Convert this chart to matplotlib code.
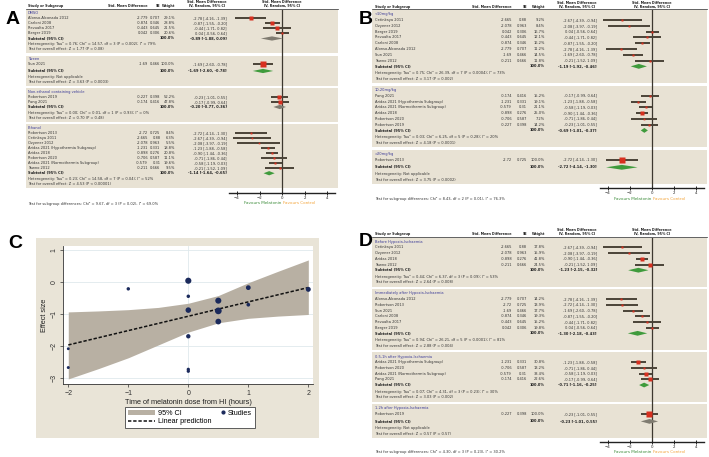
import numpy as np
import matplotlib.pyplot as plt
from matplotlib.patches import Rectangle, Polygon, Patch
from matplotlib.lines import Line2D
from matplotlib.legend_handler import HandlerLine2D

plt.rcParams.update({'font.family': 'DejaVu Sans'})

W, H = 709, 457

# -----------------------------------------------------------------------------
# study level data (std. mean difference and SE)
# -----------------------------------------------------------------------------
STUDY = ['Alonso-Alconada 2012', 'Carloni 2008', 'Revualta 2017', 'Berger 2019',
         'Sun 2021', 'Robertson 2019', 'Pang 2021', 'Robertson 2013',
         'Cetinkaya 2011', 'Ozyener 2012', 'Aridas 2021 (Hypothermia Subgroup)',
         'Aridas 2018', 'Robertson 2020', 'Aridas 2021 (Normothermia Subgroup)',
         'Yawno 2012']
SMD = [-2.779, -0.874, -0.443, 0.042, -1.69, -0.227, -0.174, -2.72,
       -2.665, -2.078, -1.231, -0.898, -0.706, -0.579, -0.211]
SE = [0.707, 0.346, 0.645, 0.306, 0.466, 0.398, 0.416, 0.725,
      0.88, 0.963, 0.331, 0.276, 0.587, 0.31, 0.666]
DOSE_TIME = [0, 0, 0, 0, 0, 2, 1, 0, -2, -2, 0.5, 0.5, 1, 0.5, -1]

# panel A: vehicle
A_GROUPS = ['DMSO', 'Tween', 'Non-ethanol containing vehicle', 'Ethanol']
A_MEMBERS = [['Alonso-Alconada 2012', 'Carloni 2008', 'Revualta 2017', 'Berger 2019'],
             ['Sun 2021'],
             ['Robertson 2019', 'Pang 2021'],
             ['Robertson 2013', 'Cetinkaya 2011', 'Ozyener 2012',
              'Aridas 2021 (Hypothermia Subgroup)', 'Aridas 2018', 'Robertson 2020',
              'Aridas 2021 (Normothermia Subgroup)', 'Yawno 2012']]
A_WEIGHTS = [[29.1, 28.8, 21.5, 20.6], [100.0], [52.2, 47.8],
             [8.4, 6.3, 5.5, 18.8, 20.8, 11.1, 19.6, 9.5]]
A_SUB_EST = [-0.89, -1.69, -0.20, -1.14]
A_SUB_LO = [-1.88, -2.60, -0.77, -1.64]
A_SUB_HI = [0.09, -0.78, 0.36, -0.65]
A_HET = ['Heterogeneity: Tau² = 0.76; Chi² = 14.57, df = 3 (P = 0.002); I² = 79%',
         'Heterogeneity: Not applicable',
         'Heterogeneity: Tau² = 0.00; Chi² = 0.01, df = 1 (P = 0.93); I² = 0%',
         'Heterogeneity: Tau² = 0.23; Chi² = 14.58, df = 7 (P = 0.04); I² = 52%']
A_OVERALL = ['Test for overall effect: Z = 1.77 (P = 0.08)',
             'Test for overall effect: Z = 3.63 (P = 0.0003)',
             'Test for overall effect: Z = 0.70 (P = 0.48)',
             'Test for overall effect: Z = 4.53 (P < 0.00001)']
A_SUBTEST = 'Test for subgroup differences: Chi² = 9.67, df = 3 (P = 0.02), I² = 69.0%'

# panel B: dose
B_GROUPS = ['<10mg/kg', '10-20mg/kg', '>20mg/kg']
B_MEMBERS = [['Cetinkaya 2011', 'Ozyener 2012', 'Berger 2019', 'Revualta 2017',
              'Carloni 2008', 'Alonso-Alconada 2012', 'Sun 2021', 'Yawno 2012'],
             ['Pang 2021', 'Aridas 2021 (Hypothermia Subgroup)',
              'Aridas 2021 (Normothermia Subgroup)', 'Aridas 2018',
              'Robertson 2020', 'Robertson 2019'],
             ['Robertson 2013']]
B_WEIGHTS = [[9.2, 8.4, 16.7, 12.1, 16.2, 11.2, 14.5, 11.8],
             [15.2, 19.1, 21.1, 25.0, 7.2, 14.2], [100.0]]
B_SUB_EST = [-1.19, -0.69, -2.72]
B_SUB_LO = [-1.92, -1.01, -4.14]
B_SUB_HI = [-0.46, -0.37, -1.30]
B_HET = ['Heterogeneity: Tau² = 0.75; Chi² = 26.39, df = 7 (P = 0.0004); I² = 73%',
         'Heterogeneity: Tau² = 0.03; Chi² = 6.25, df = 5 (P = 0.28); I² = 20%',
         'Heterogeneity: Not applicable']
B_OVERALL = ['Test for overall effect: Z = 3.17 (P = 0.002)',
             'Test for overall effect: Z = 4.18 (P < 0.0001)',
             'Test for overall effect: Z = 3.75 (P = 0.0002)']
B_SUBTEST = 'Test for subgroup differences: Chi² = 8.43, df = 2 (P = 0.01), I² = 76.3%'

# panel D: timing
D_GROUPS = ['Before Hypoxia-Ischaemia', 'Immediately after Hypoxia-Ischaemia',
            '0.5-1h after Hypoxia-Ischaemia', '1-2h after Hypoxia-Ischaemia']
D_MEMBERS = [['Cetinkaya 2011', 'Ozyener 2012', 'Aridas 2018', 'Yawno 2012'],
             ['Alonso-Alconada 2012', 'Robertson 2013', 'Sun 2021', 'Carloni 2008',
              'Revualta 2017', 'Berger 2019'],
             ['Aridas 2021 (Hypothermia Subgroup)', 'Robertson 2020',
              'Aridas 2021 (Normothermia Subgroup)', 'Pang 2021'],
             ['Robertson 2019']]
D_WEIGHTS = [[17.8, 15.9, 41.8, 24.5], [14.2, 13.9, 17.7, 19.3, 15.2, 19.8],
             [30.8, 13.2, 33.4, 22.6], [100.0]]
D_SUB_EST = [-1.23, -1.30, -0.71, -0.23]
D_SUB_LO = [-2.15, -2.18, -1.16, -1.01]
D_SUB_HI = [-0.32, -0.43, -0.25, 0.55]
D_HET = ['Heterogeneity: Tau² = 0.44; Chi² = 6.37, df = 3 (P = 0.09); I² = 53%',
         'Heterogeneity: Tau² = 0.94; Chi² = 26.21, df = 5 (P < 0.0001); I² = 81%',
         'Heterogeneity: Tau² = 0.07; Chi² = 4.31, df = 3 (P = 0.23); I² = 30%',
         'Heterogeneity: Not applicable']
D_OVERALL = ['Test for overall effect: Z = 2.64 (P = 0.008)',
             'Test for overall effect: Z = 2.88 (P = 0.004)',
             'Test for overall effect: Z = 3.03 (P = 0.002)',
             'Test for overall effect: Z = 0.57 (P = 0.57)']
D_SUBTEST = 'Test for subgroup differences: Chi² = 4.30, df = 3 (P = 0.23), I² = 30.2%'

# panel C: meta-regression on timing (band and fit)
C_BAND_X = [-2, -1.5, -1, -0.5, 0, 0.5, 1, 1.5, 2]
C_BAND_HI = [-0.93, -0.90, -0.86, -0.79, -0.66, -0.42, -0.02, 0.34, 0.69]
C_BAND_LO = [-3.02, -2.70, -2.36, -1.96, -1.56, -1.27, -1.13, -1.06, -1.01]
C_FIT_X = [-2, 2]
C_FIT_Y = [-1.96, -0.17]

# -----------------------------------------------------------------------------
# colours / sizes
# -----------------------------------------------------------------------------
BEIGE = '#e8e2d4'
GROUP_BLUE = '#3b3b98'
TXT = '#333333'
CI_COL = '#4a4337'
RED = '#d7301f'
GREEN = '#3f9b3c'
GREY = '#7f7b70'
FS = 2.6
FS_HEAD = 2.45


def study_values(name):
    i = STUDY.index(name)
    return SMD[i], SE[i]


def group_rows(sizes, top, step, gap=2.5):
    out = []
    y = top
    for n in sizes:
        g = {'top': y, 'head': y + 0.75 * step}
        g['studies'] = [g['head'] + step * (k + 1) for k in range(n)]
        g['sub'] = g['studies'][-1] + step * (1.3 if n == 1 else 1.0)
        g['het'] = g['sub'] + 1.15 * step
        g['test'] = g['het'] + step
        g['bottom'] = g['test'] + 0.75 * step
        out.append(g)
        y = g['bottom'] + gap
    return out


def draw_forest(fig, bg, geo, groups, members, weights, sub_est, sub_lo, sub_hi,
                het, overall, subtest):
    rows = group_rows([len(m) for m in members], geo['top'], geo['step'])
    bx0, bx1 = geo['box']
    tkw = dict(fontsize=FS, va='center', color=TXT)

    # column headers
    h2 = geo['top'] - 3.4
    h1 = h2 - 4.0
    bkw = dict(fontsize=FS_HEAD, va='center', color='#222222', fontweight='bold')
    bg.text(geo['name'], h2, 'Study or Subgroup', ha='left', **bkw)
    bg.text(geo['smd'], h2, 'Std. Mean Difference', ha='right', **bkw)
    bg.text(geo['se'], h2, 'SE', ha='right', **bkw)
    bg.text(geo['w'], h2, 'Weight', ha='right', **bkw)
    bg.text(geo['ci'] - 20, h1, 'Std. Mean Difference', ha='center', **bkw)
    bg.text(geo['ci'] - 20, h2, 'IV, Random, 95% CI', ha='center', **bkw)
    bg.text(geo['zero'], h1, 'Std. Mean Difference', ha='center', **bkw)
    bg.text(geo['zero'], h2, 'IV, Random, 95% CI', ha='center', **bkw)
    bg.plot([bx0, bx1], [geo['top'] - 0.6, geo['top'] - 0.6], color='#222222', lw=0.5)

    # panel letter
    bg.text(geo['letter'][0], geo['letter'][1], geo['label'], fontsize=14,
            fontweight='bold', family='Liberation Sans', ha='center', va='center')

    xr = 4.7
    fx0 = geo['zero'] - xr * geo['scale']
    fx1 = geo['zero'] + xr * geo['scale']
    axf = fig.add_axes([fx0 / W, 1 - geo['axis'] / H, (fx1 - fx0) / W,
                        (geo['axis'] - geo['top']) / H])
    axf.set_xlim(-xr, xr)
    axf.set_ylim(geo['axis'], geo['top'])
    axf.patch.set_alpha(0)
    for sp in ['top', 'left', 'right']:
        axf.spines[sp].set_visible(False)
    axf.spines['bottom'].set_linewidth(1.0)
    axf.spines['bottom'].set_color('#222222')
    axf.set_yticks([])
    axf.set_xticks([-4, -2, 0, 2, 4])
    axf.tick_params(axis='x', direction='inout', length=2.5, width=0.7,
                    labelsize=2.8, pad=0.6, colors='#222222')
    axf.axvline(0, color='#3d382f', lw=0.9, zorder=1)

    for gi, g in enumerate(rows):
        bg.add_patch(Rectangle((bx0, g['top']), bx1 - bx0, g['bottom'] - g['top'],
                               fc=BEIGE, ec='none', zorder=0))
        bg.text(geo['name'], g['head'], groups[gi], ha='left', fontsize=FS,
                va='center', color=GROUP_BLUE)
        for k, name in enumerate(members[gi]):
            smd, se = study_values(name)
            lo, hi = smd - 1.96 * se, smd + 1.96 * se
            y = g['studies'][k]
            bg.text(geo['name'], y, name, ha='left', **tkw)
            bg.text(geo['smd'], y, f'{smd:g}', ha='right', **tkw)
            bg.text(geo['se'], y, f'{se:g}', ha='right', **tkw)
            bg.text(geo['w'], y, f'{weights[gi][k]:.1f}%', ha='right', **tkw)
            bg.text(geo['ci'], y, f'{smd:.2f} [{lo:.2f}, {hi:.2f}]', ha='right', **tkw)
            axf.plot([lo, hi], [y, y], color=CI_COL, lw=1.4,
                     solid_capstyle='butt', zorder=2)
            side = max(6.5 * np.sqrt(weights[gi][k] / 100), 1.6)
            axf.plot(smd, y, marker='s', ms=side * 0.72, color=RED, mec='none',
                     zorder=3)

        ys = g['sub']
        skw = dict(fontsize=FS, va='center', color='#222222', fontweight='bold')
        bg.text(geo['name'], ys, 'Subtotal (95% CI)', ha='left', **skw)
        bg.text(geo['w'], ys, '100.0%', ha='right', **skw)
        bg.text(geo['ci'], ys,
                f'{sub_est[gi]:.2f} [{sub_lo[gi]:.2f}, {sub_hi[gi]:.2f}]',
                ha='right', **skw)
        bg.text(geo['name'], g['het'], het[gi], ha='left', **tkw)
        bg.text(geo['name'], g['test'], overall[gi], ha='left', **tkw)

        hh = 0.42 * geo['step']
        col = GREEN if sub_hi[gi] < 0 else GREY
        axf.add_patch(Polygon([(sub_lo[gi], ys), (sub_est[gi], ys - hh),
                               (sub_hi[gi], ys), (sub_est[gi], ys + hh)],
                              closed=True, fc=col, ec='none', zorder=3))

    # footer
    bg.text(geo['name'], geo['fav'], subtest, ha='left', **tkw)
    bg.text(geo['zero'] - 0.6, geo['fav'], 'Favours Melatonin', ha='right',
            va='center', fontsize=3.0, color='#3c8c3a')
    bg.text(geo['zero'] + 0.6, geo['fav'], 'Favours Control', ha='left',
            va='center', fontsize=3.0, color='#f3a43a')


class DotAtRight(HandlerLine2D):
    """Legend key with the marker pushed to the right end of the key area."""

    def create_artists(self, legend, orig_handle, xdescent, ydescent, width,
                       height, fontsize, trans):
        arts = super().create_artists(legend, orig_handle, xdescent, ydescent,
                                      width, height, fontsize, trans)
        for a in arts:
            x = np.asarray(a.get_xdata(), dtype=float)
            a.set_xdata(np.full_like(x, width - xdescent - 1.5))
        return arts


fig = plt.figure(figsize=(W / 100, H / 100), dpi=100)
bg = fig.add_axes([0, 0, 1, 1])
bg.set_xlim(0, W)
bg.set_ylim(H, 0)
bg.set_axis_off()

GEO_A = dict(label='A', letter=(13, 19), box=(26, 338), name=28, smd=148, se=160.5,
             w=175, ci=227, zero=282, scale=11.25, top=9.5, step=5.04, axis=193,
             fav=203.5)
GEO_B = dict(label='B', letter=(366, 19), box=(372, 707), name=375, smd=512,
             se=527, w=545, ci=597, zero=652, scale=11.1, top=10, step=5.78,
             axis=188, fav=199)
GEO_D = dict(label='D', letter=(366, 242), box=(372, 707), name=375, smd=512,
             se=527, w=545, ci=597, zero=652, scale=11.1, top=237.5, step=5.69,
             axis=442, fav=452)

draw_forest(fig, bg, GEO_A, A_GROUPS, A_MEMBERS, A_WEIGHTS, A_SUB_EST, A_SUB_LO,
            A_SUB_HI, A_HET, A_OVERALL, A_SUBTEST)
draw_forest(fig, bg, GEO_B, B_GROUPS, B_MEMBERS, B_WEIGHTS, B_SUB_EST, B_SUB_LO,
            B_SUB_HI, B_HET, B_OVERALL, B_SUBTEST)
draw_forest(fig, bg, GEO_D, D_GROUPS, D_MEMBERS, D_WEIGHTS, D_SUB_EST, D_SUB_LO,
            D_SUB_HI, D_HET, D_OVERALL, D_SUBTEST)

# -----------------------------------------------------------------------------
# panel C: bubble plot of effect size vs. timing
# -----------------------------------------------------------------------------
bg.add_patch(Rectangle((36, 238), 283, 200, fc='#e9e4d7', ec='none', zorder=0))
bg.text(15, 243, 'C', fontsize=14, fontweight='bold', family='Liberation Sans',
        ha='center', va='center')

cx0, cx1, cy0, cy1 = 63.3, 313.3, 245.7, 384.3
axc = fig.add_axes([cx0 / W, 1 - cy1 / H, (cx1 - cx0) / W, (cy1 - cy0) / H])
axc.set_facecolor('white')
axc.set_xlim(-2.083, 2.083)
axc.set_ylim(-3.187, 1.134)
axc.set_xticks([-2, -1, 0, 1, 2])
axc.set_yticks([-3, -2, -1, 0, 1])
axc.grid(axis='y', color='#dfe9ec', lw=0.6)
axc.axvline(0, color='#dfe9ec', lw=0.6, zorder=0)
axc.set_axisbelow(True)
for sp in ['top', 'right']:
    axc.spines[sp].set_visible(False)
for sp in ['left', 'bottom']:
    axc.spines[sp].set_color('#333333')
    axc.spines[sp].set_linewidth(0.6)

axc.fill_between(C_BAND_X, C_BAND_LO, C_BAND_HI, color='#b8b0a3', lw=0, zorder=1)
inv_var = 1 / np.array(SE) ** 2
axc.scatter(DOSE_TIME, SMD, s=2.5 + 1.6 * inv_var, color='#1b2a5c', lw=0, zorder=3)
axc.plot(C_FIT_X, C_FIT_Y, color='#111111', lw=1.1, ls=(0, (2.2, 1.2)), zorder=2)

cfont = 'Liberation Sans'
axc.tick_params(length=2.5, width=0.5, pad=1.5, labelsize=5, colors='#333333')
axc.tick_params(axis='y', labelrotation=90)
for lbl in axc.get_xticklabels() + axc.get_yticklabels():
    lbl.set_family(cfont)
for lbl in axc.get_yticklabels():
    lbl.set_va('center')
axc.set_xlabel('Time of melatonin dose from HI (hours)', fontsize=5.3,
               family=cfont, labelpad=1.5, color='#222222')
axc.set_ylabel('Effect size', fontsize=5.3, family=cfont, labelpad=2,
               color='#222222')

studies_key = Line2D([], [], marker='o', ls='', ms=2, color='#1b2a5c')
handles = [Patch(fc='#b8b0a3', ec='none'),
           Line2D([], [], color='#111111', lw=1.1, ls=(0, (2.2, 1.2))),
           studies_key]
labels = ['95% CI', 'Linear prediction', 'Studies']
leg = fig.legend(handles, labels, ncol=2, loc='center',
                 bbox_to_anchor=(190 / W, 1 - 417.5 / H),
                 prop={'family': cfont, 'size': 5.2}, frameon=True,
                 fancybox=False, edgecolor='#444444', framealpha=1,
                 handlelength=3.8, columnspacing=-1.9, borderpad=0.35,
                 labelspacing=0.25, handletextpad=0.4, numpoints=1,
                 handler_map={studies_key: DotAtRight(numpoints=1)})
leg.get_frame().set_linewidth(0.6)

fig.savefig('out.png', dpi=100)
